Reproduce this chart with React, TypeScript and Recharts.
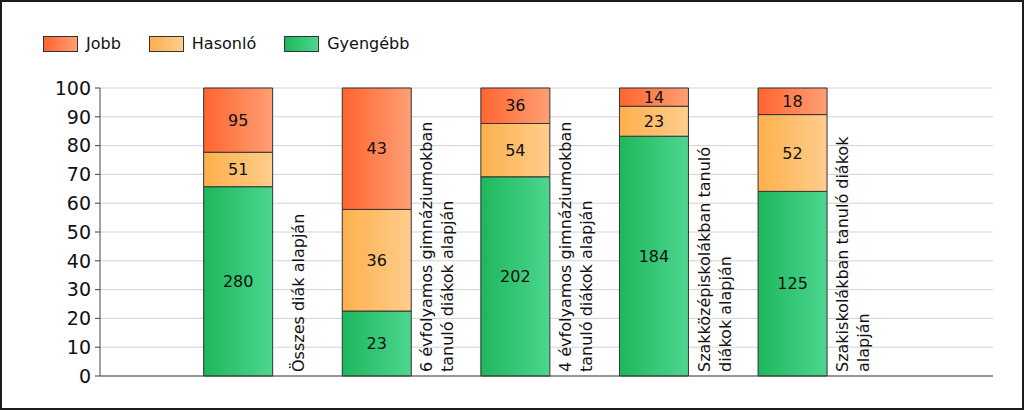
import { BarChart, Bar, XAxis, YAxis, CartesianGrid, LabelList } from 'recharts';

const categories = [
    'Összes diák alapján',
    '6 évfolyamos gimnáziumokban tanuló diákok alapján',
    '4 évfolyamos gimnáziumokban tanuló diákok alapján',
    'Szakközépiskolákban tanuló diákok alapján',
    'Szakiskolákban tanuló diákok alapján'
];

// how each category label wraps
const categoryLines = [
    ['Összes diák alapján'],
    ['6 évfolyamos gimnáziumokban', 'tanuló diákok alapján'],
    ['4 évfolyamos gimnáziumokban', 'tanuló diákok alapján'],
    ['Szakközépiskolákban tanuló', 'diákok alapján'],
    ['Szakiskolákban tanuló diákok', 'alapján']
];

const jobb = [95, 43, 36, 14, 18];
const hasonlo = [51, 36, 54, 23, 52];
const gyengebb = [280, 23, 202, 184, 125];

const yTicks = [0, 10, 20, 30, 40, 50, 60, 70, 80, 90, 100];

const data = categories.map((name, i) => ({
    name,
    jobb: jobb[i],
    hasonlo: hasonlo[i],
    gyengebb: gyengebb[i]
}));

const FONT = '"DejaVu Sans", Arial, sans-serif';

const SERIES = [
    { key: 'gyengebb', label: 'Gyengébb', from: '#1db75c', to: '#4dd690' },
    { key: 'hasonlo', label: 'Hasonló', from: '#fdb04c', to: '#ffcd8c' },
    { key: 'jobb', label: 'Jobb', from: '#ff6530', to: '#ff9f74' }
];

const CategoryTick = ({ x, y, index }: any) => {
    const lines = categoryLines[index] || [];
    const n = lines.length;
    return (
        <g>
            {lines.map((line, i) => {
                const tx = x + 61 + (i - (n - 1) / 2) * 21 + 5;
                const ty = y - 4;
                return (
                    <text
                        key={i}
                        x={tx}
                        y={ty}
                        transform={`rotate(-90 ${tx} ${ty})`}
                        textAnchor="start"
                        fontSize={16}
                        fill="#111"
                        fontFamily={FONT}
                    >
                        {line}
                    </text>
                );
            })}
        </g>
    );
};

const legendOrder = [SERIES[2], SERIES[1], SERIES[0]];

const App = () => {
    return (
        <div
            style={{
                position: 'absolute',
                left: 0,
                top: 0,
                width: 1024,
                height: 410,
                boxSizing: 'border-box',
                border: '2px solid #1c1c1c',
                background: '#fff',
                fontFamily: FONT
            }}
        >
            {/* legend */}
            <div style={{ position: 'absolute', left: 41, top: 32, display: 'flex', alignItems: 'center' }}>
                {legendOrder.map((s) => (
                    <div key={s.key} style={{ display: 'flex', alignItems: 'center', marginRight: 28 }}>
                        <div
                            style={{
                                width: 35,
                                height: 16,
                                boxSizing: 'border-box',
                                border: '1px solid #333',
                                background: `linear-gradient(to right, ${s.from}, ${s.to})`
                            }}
                        />
                        <span style={{ marginLeft: 8, fontSize: 16, color: '#111' }}>{s.label}</span>
                    </div>
                ))}
            </div>

            <BarChart
                width={1020}
                height={406}
                data={data}
                stackOffset="expand"
                barCategoryGap="25%"
                margin={{ top: 86, right: 29, left: 0, bottom: 2 }}
            >
                <defs>
                    {SERIES.map((s) => (
                        <linearGradient key={s.key} id={`grad-${s.key}`} x1="0" y1="0" x2="1" y2="0">
                            <stop offset="0%" stopColor={s.from} />
                            <stop offset="100%" stopColor={s.to} />
                        </linearGradient>
                    ))}
                </defs>

                {/*Horizontal grid only*/}
                <CartesianGrid vertical={false} stroke="#d2d2d2" />

                <XAxis
                    dataKey="name"
                    height={30}
                    padding={{ left: 69, right: 131 }}
                    tickLine={false}
                    tickSize={0}
                    tickMargin={0}
                    axisLine={{ stroke: '#444' }}
                    tick={<CategoryTick />}
                    interval={0}
                />

                <YAxis
                    width={98}
                    domain={[0, 1]}
                    ticks={yTicks.map((t) => t / 100)}
                    tickFormatter={(v: number) => String(Math.round(v * 100))}
                    tick={{ fontSize: 19, fill: '#111', fontFamily: FONT }}
                    tickSize={5}
                    tickMargin={4}
                    axisLine={{ stroke: '#444' }}
                    tickLine={{ stroke: '#444' }}
                    interval={0}
                />

                {SERIES.map((s) => (
                    <Bar
                        key={s.key}
                        dataKey={s.key}
                        stackId="a"
                        fill={`url(#grad-${s.key})`}
                        stroke="#333"
                        strokeWidth={1}
                        isAnimationActive={false}
                    >
                        <LabelList
                            dataKey={s.key}
                            position="center"
                            fontSize={16}
                            fill="#111"
                            fontFamily={FONT}
                        />
                    </Bar>
                ))}
            </BarChart>
        </div>
    );
};

export default App;
